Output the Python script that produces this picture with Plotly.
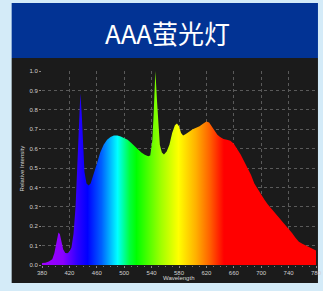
import plotly.graph_objects as go

wavelength = [380, 385, 390, 395, 398, 401, 404, 406, 408, 411, 414, 417, 420, 423, 426, 429,
              432, 434, 436, 438, 440, 442, 445, 448, 451, 455, 460, 465, 470, 475, 480, 485,
              490, 495, 500, 505, 510, 515, 520, 525, 530, 535, 538, 541, 543, 545.5, 548, 550,
              552, 555, 558, 562, 566, 570, 574, 577, 580, 583, 586, 590, 595, 600, 605, 610,
              615, 620, 624, 628, 632, 636, 640, 645, 650, 655, 660, 665, 670, 675, 680, 685,
              690, 695, 700, 705, 710, 715, 720, 725, 730, 735, 740, 745, 750, 755, 760, 765,
              770, 775, 780]
intensity = [0.010, 0.012, 0.018, 0.030, 0.060, 0.120, 0.168, 0.160, 0.120, 0.080, 0.062, 0.060,
             0.068, 0.090, 0.160, 0.300, 0.550, 0.750, 0.885, 0.780, 0.600, 0.480, 0.420, 0.410,
             0.420, 0.460, 0.520, 0.580, 0.620, 0.645, 0.660, 0.668, 0.668, 0.662, 0.655, 0.645,
             0.630, 0.612, 0.595, 0.580, 0.568, 0.560, 0.565, 0.640, 0.780, 1.000, 0.840, 0.700,
             0.620, 0.580, 0.570, 0.585, 0.620, 0.680, 0.720, 0.730, 0.715, 0.680, 0.668, 0.675,
             0.690, 0.700, 0.708, 0.715, 0.728, 0.740, 0.735, 0.715, 0.690, 0.672, 0.660, 0.650,
             0.645, 0.640, 0.625, 0.600, 0.570, 0.535, 0.500, 0.465, 0.420, 0.390, 0.365, 0.335,
             0.310, 0.290, 0.270, 0.248, 0.228, 0.208, 0.190, 0.165, 0.140, 0.120, 0.110, 0.102,
             0.095, 0.085, 0.075]

x_ticks = [380, 420, 460, 500, 540, 580, 620, 660, 700, 740, 780]
y_ticks = [0.0, 0.1, 0.2, 0.3, 0.4, 0.5, 0.6, 0.7, 0.8, 0.9, 1.0]
title_text = "AAA萤光灯"

spectrum = [
    [0.0, "#a000ff"], [0.075, "#8a00ff"], [0.125, "#3000ff"], [0.1625, "#0000ff"],
    [0.2125, "#0060ff"], [0.27, "#00ffff"], [0.3125, "#00ff40"], [0.3375, "#00ff00"],
    [0.425, "#a0ff00"], [0.4875, "#ffff00"], [0.55, "#ffb000"], [0.6, "#ff6000"],
    [0.65, "#ff0000"], [1.0, "#ff0000"],
]

fig = go.Figure()
fig.add_trace(go.Scatter(
    x=wavelength, y=intensity, mode="lines", line=dict(width=0),
    fill="tozeroy",
    fillgradient=dict(type="horizontal", colorscale=spectrum, start=380, stop=780),
    hoverinfo="skip", showlegend=False,
))

L, R, T, B = 42, 1, 71, 26
W, H = 323, 291
pw, ph = W - L - R, H - T - B


def px(x):
    return (x - L) / pw


def py(y):
    return (H - B - y) / ph


shapes = [
    dict(type="rect", xref="paper", yref="paper", x0=px(11), x1=px(324), y0=py(58), y1=py(283),
         fillcolor="#1b1b1b", line=dict(width=0), layer="below"),
    dict(type="rect", xref="paper", yref="paper", x0=px(11), x1=px(324), y0=py(3), y1=py(58),
         fillcolor="#023394", line=dict(width=0), layer="below"),
]

annotations = [
    dict(text=title_text, xref="paper", yref="paper", x=px(170), y=py(32), showarrow=False,
         font=dict(family="Liberation Sans Narrow, Noto Sans CJK SC", size=26, color="white"),
         xanchor="center", yanchor="middle"),
    dict(text="Wavelength", xref="paper", yref="paper", x=px(181), y=py(278), showarrow=False,
         font=dict(family="Liberation Sans", size=6, color="#d8d8d8"), xanchor="center", yanchor="middle"),
    dict(text="Relative Intensity", xref="paper", yref="paper", x=px(22), y=py(168), showarrow=False,
         textangle=-90, font=dict(family="Liberation Sans", size=6, color="#d8d8d8"),
         xanchor="center", yanchor="middle"),
]

fig.update_layout(
    width=W, height=H,
    margin=dict(l=L, r=R, t=T, b=B),
    paper_bgcolor="#d4ebf8",
    plot_bgcolor="#1b1b1b",
    shapes=shapes,
    annotations=annotations,
    xaxis=dict(range=[380, 780], tickvals=x_ticks, ticktext=[str(v) for v in x_ticks],
               showgrid=True, gridcolor="#5a5a5a", griddash="dot", gridwidth=1,
               ticks="outside", ticklen=2, tickcolor="#888888",
               minor=dict(ticks="outside", dtick=10, ticklen=1, tickcolor="#777777"),
               tickfont=dict(family="Liberation Sans", size=6, color="#d0d0d0"),
               ticklabeloverflow="allow",
               zeroline=False, showline=False),
    yaxis=dict(range=[0, 1.0], tickvals=y_ticks, ticktext=[f"{v:.1f}" for v in y_ticks],
               showgrid=True, gridcolor="#5a5a5a", griddash="dot", gridwidth=1,
               ticks="outside", ticklen=2, tickcolor="#888888",
               tickfont=dict(family="Liberation Sans", size=6, color="#d0d0d0"),
               zeroline=False, showline=False),
)

fig.write_html(
    "out.html",
    config={"displayModeBar": False},
    post_script="document.body.style.margin='0';document.body.style.background='#d4ebf8';",
)
